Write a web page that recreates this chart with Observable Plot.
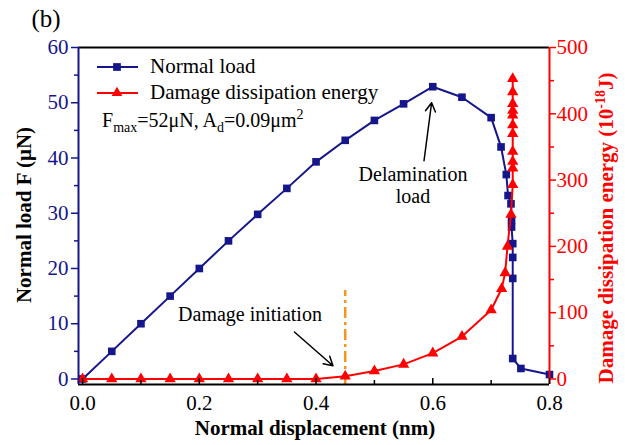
<!DOCTYPE html>
<html><head><meta charset="utf-8">
<script src="https://cdn.jsdelivr.net/npm/d3@7"></script>
<script src="https://cdn.jsdelivr.net/npm/@observablehq/plot@0.6"></script>
<style>body{margin:0;background:#fff} svg{display:block}</style>
</head><body><div id="chart"></div>
<script>
// Normal load (μN) vs normal displacement (nm)
const loadX = [0,0.05,0.1,0.15,0.2,0.25,0.3,0.35,0.4,0.45,0.5,0.55,0.6,0.65,0.7,0.717,0.726,0.729,0.734,0.735,0.735,0.737,0.737,0.737,0.737,0.751,0.8];
const loadF = [0,5,10,15,20,25,29.8,34.5,39.3,43.2,46.8,49.8,52.9,51,47.3,42,37,33.2,31.7,28.7,27.5,24.5,22,18.2,3.7,1.9,0.8];
// Damage dissipation energy (1e-18 J)
const energyX = [0,0.05,0.1,0.15,0.2,0.25,0.3,0.35,0.4,0.45,0.5,0.55,0.6,0.65,0.7,0.718,0.724,0.728,0.734,0.737,0.737,0.737,0.737,0.737,0.737,0.737,0.737,0.737,0.737,0.737];
const energyE = [0,0,0,0,0,0,0,0,0,4,12,22,39,64,104,136,160,200,248,293,318,328,343,370,383,398,405,415,433,453];
const xTicks = [0,0.2,0.4,0.6,0.8];
const xMinor = [0.1,0.3,0.5,0.7];
const leftTicks = [0,10,20,30,40,50,60];
const leftMinor = [5,15,25,35,45,55];
const rightTicks = [0,100,200,300,400,500];
const rightMinor = [50,150,250,350,450];
const initiationX = [0.45];
const peakArrow = [{x1:0.585,y1:39.5,x2:0.598,y2:50}];
const initArrow = [{x1:0.363,y1:8.5,x2:0.429,y2:2.4}];

const navy = "#16168c", red = "#ff0000", orange = "#f7941d";
const k = 60/500; // right axis -> left axis units
const load = loadX.map((x,i)=>({x, f: loadF[i]}));
const energy = energyX.map((x,i)=>({x, e: energyE[i]}));
const W=625, H=445, mL=78, mR=76, mT=47, mB=61;
const innerH = H-mT-mB;
const xDomain=[-0.007,0.8], yDomain=[-1,60];
const serif = "'Liberation Serif','Times New Roman',serif";

const chart = Plot.plot({
  width:W, height:H, marginLeft:mL, marginRight:mR, marginTop:mT, marginBottom:mB,
  style:{fontFamily:serif, fontSize:"21px", background:"white", overflow:"visible"},
  x:{domain:xDomain, axis:null},
  y:{domain:yDomain, axis:null},
  marks:[
    Plot.ruleX(initiationX, {y1: yDomain[0], y2: 16, stroke: orange, strokeWidth: 2.5, strokeDasharray: "11,4,3,4"}),
    Plot.arrow(peakArrow, {x1:"x1",y1:"y1",x2:"x2",y2:"y2", stroke:"black", strokeWidth:1.5, headLength:10}),
    Plot.arrow(initArrow, {x1:"x1",y1:"y1",x2:"x2",y2:"y2", stroke:"black", strokeWidth:1.5, headLength:10}),
    Plot.line(load,{x:"x",y:"f",stroke:navy,strokeWidth:2}),
    Plot.dot(load,{x:"x",y:"f",symbol:"square",fill:navy,r:4.3}),
    Plot.line(energy,{x:"x",y:d=>d.e*k,stroke:red,strokeWidth:2}),
    Plot.dot(energy,{x:"x",y:d=>d.e*k,symbol:"triangle",fill:red,r:4.2}),
    Plot.ruleY([yDomain[1]],{stroke:"black",strokeWidth:2}),
    Plot.ruleY([yDomain[0]],{stroke:"black",strokeWidth:2}),
    Plot.ruleX([xDomain[0]],{stroke:navy,strokeWidth:2}),
    Plot.ruleX([xDomain[1]],{stroke:red,strokeWidth:2}),
    Plot.tickX(xTicks,{x:d=>d, stroke:"black", strokeWidth:1.5, insetTop: innerH-6}),
    Plot.tickX(xMinor,{x:d=>d, stroke:"black", strokeWidth:1.5, insetTop: innerH-4}),
    Plot.axisX(xTicks,{tickSize:0, tickPadding:11, tickFormat:d3.format(".1f"), fontSize:21, fill:"black"}),
    Plot.axisY(leftTicks,{anchor:"left", tickSize:7, tickPadding:3, fontSize:21, color:navy, strokeWidth:1.5}),
    Plot.axisY(leftMinor,{anchor:"left", tickSize:4, tickFormat:()=>"", color:navy, strokeWidth:1.5}),
    Plot.axisY(rightTicks.map(v=>v*k),{anchor:"right", tickSize:6, tickPadding:1, tickFormat:d=>Math.round(d/k), fontSize:21, color:red, strokeWidth:1.5}),
    Plot.axisY(rightMinor.map(v=>v*k),{anchor:"right", tickSize:4, tickFormat:()=>"", color:red, strokeWidth:1.5})
  ]
});
document.getElementById("chart").append(chart);

const svg = d3.select(chart);
const txt = (x,y,s,opts={}) => {
  const t = svg.append("text").attr("x",x).attr("y",y).attr("font-family",serif)
    .attr("font-size",opts.size||20).attr("fill",opts.fill||"black")
    .attr("text-anchor",opts.anchor||"start");
  if (opts.weight) t.attr("font-weight",opts.weight);
  if (s) t.text(s);
  return t;
};
// panel label
txt(46,27,"(b)",{size:25,anchor:"middle"});
// legend
const leg = svg.append("g");
[[67,navy,d3.symbolSquare,"Normal load",60],[93,red,d3.symbolTriangle,"Damage dissipation energy",50]].forEach(([y,c,sym,label,size])=>{
  leg.append("line").attr("x1",97).attr("x2",138).attr("y1",y).attr("y2",y).attr("stroke",c).attr("stroke-width",2);
  leg.append("path").attr("d",d3.symbol(sym,size)()).attr("transform",`translate(117,${y})`).attr("fill",c);
  txt(150,y+6,label,{size:21});
});
// F_max annotation
const fm = txt(102,127,null,{size:20});
fm.append("tspan").text("F");
fm.append("tspan").attr("font-size",14).attr("dy",5).text("max");
fm.append("tspan").attr("dy",-5).text("=52μN, A");
fm.append("tspan").attr("font-size",14).attr("dy",5).text("d");
fm.append("tspan").attr("dy",-5).text("=0.09μm");
fm.append("tspan").attr("font-size",14).attr("dy",-8).text("2");
// annotations
txt(413,181,"Delamination",{size:20,anchor:"middle"});
txt(413,203,"load",{size:20,anchor:"middle"});
txt(250,321,"Damage initiation",{size:20,anchor:"middle"});
// axis titles
txt(315,435,"Normal displacement (nm)",{size:21,anchor:"middle",weight:"bold"});
txt(0,0,"Normal load F (μN)",{size:21,anchor:"middle",weight:"bold"}).attr("transform","translate(31,215) rotate(-90)");
const rl = txt(0,0,null,{size:21,anchor:"middle",weight:"bold",fill:red}).attr("transform","translate(613,228) rotate(-90)");
rl.append("tspan").text("Damage dissipation energy (10");
rl.append("tspan").attr("font-size",14).attr("dy",-8).text("-18");
rl.append("tspan").attr("dy",8).text("J)");
</script>
</body></html>
